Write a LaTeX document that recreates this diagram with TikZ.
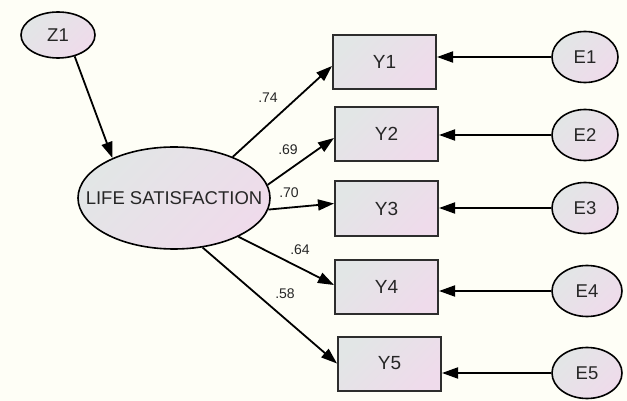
\documentclass[tikz,border=0pt]{standalone}
\usepackage{fontspec}
\setmainfont{Liberation Sans}
\usetikzlibrary{shapes.geometric,arrows.meta}
\definecolor{bgc}{RGB}{254,254,246}
\definecolor{gcol}{RGB}{226,230,230}
\definecolor{pcol}{RGB}{239,219,235}
\definecolor{boxline}{RGB}{45,45,45}
\tikzset{
  shadefill/.style={top color=gcol, bottom color=pcol, shading angle=45},
  latent/.style={ellipse, draw=black, line width=1.6pt, shadefill, inner sep=0pt,
    font=\fontsize{18.5}{20}\selectfont, text=black!85},
  observed/.style={rectangle, draw=boxline, line width=2pt, shadefill, inner sep=0pt,
    minimum width=103pt, minimum height=54pt, font=\fontsize{19}{20}\selectfont, text=black!85},
  errnode/.style={latent, minimum width=66pt, minimum height=51pt},
  path/.style={line width=1.8pt, -{Triangle[length=16pt,width=11pt]}},
  coef/.style={font=\fontsize{14}{15}\selectfont, text=black!85, inner sep=0pt}
}
\begin{document}
\begin{tikzpicture}[x=1pt,y=-1pt]
\fill[bgc] (0,0) rectangle (627,401);
\useasboundingbox (0,0) rectangle (627,401);

\node[latent, minimum width=74pt, minimum height=46pt] (Z1) at (58,35) {Z1};
\node[latent, minimum width=192pt, minimum height=102pt] (LS) at (174,198) {\makebox[0pt]{LIFE SATISFACTION}};

\node[observed] (Y1) at (384.5,62) {Y1};
\node[observed] (Y2) at (386.5,134) {Y2};
\node[observed] (Y3) at (386.5,208.5) {Y3};
\node[observed] (Y4) at (386.5,287) {Y4};
\node[observed] (Y5) at (389.5,363.5) {Y5};

\node[errnode] (E1) at (585,57) {E1};
\node[errnode] (E2) at (585,135) {E2};
\node[errnode] (E3) at (585,208) {E3};
\node[errnode, minimum width=70pt] (E4) at (587,291) {E4};
\node[errnode, minimum width=70pt] (E5) at (587,373) {E5};

\draw[path] (Z1.-52) -- (LS.147);

\draw[path] (LS.35) -- ([yshift=-4pt]Y1.west);
\draw[path] (LS.8) -- ([yshift=-4pt]Y2.west);
\draw[path] (LS.-7) -- ([yshift=5pt]Y3.west);
\draw[path] (LS.-31) -- ([yshift=2pt]Y4.west);
\draw[path] (LS.-60) -- (Y5.west);

\foreach \i in {1,...,5}{
  \draw[path] (E\i.west) -- (Y\i.east |- E\i.west);
}

\node[coef] (c1) at (268,98) {.74};
\node[coef] (c2) at (288,150) {.69};
\node[coef] (c3) at (289,193) {.70};
\node[coef] (c4) at (300,250) {.64};
\node[coef] (c5) at (285,294) {.58};
\end{tikzpicture}
\end{document}
